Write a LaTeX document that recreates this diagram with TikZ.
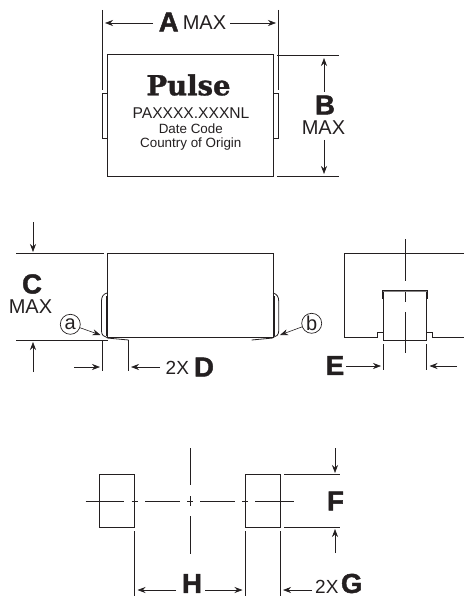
\documentclass[tikz,border=0pt]{standalone}
\usepackage{fontspec}
\setmainfont{Liberation Sans}
\newfontfamily\slabfont[FakeBold=1.2]{DejaVu Serif Bold}
\newfontfamily\heavyfont[FakeBold=1.6]{Liberation Sans Bold}
\usetikzlibrary{arrows.meta}
\definecolor{ink}{HTML}{231F20}
\tikzset{
  x=1pt,y=-1pt,
  outline/.style={draw=ink,line width=1pt},
  thin line/.style={draw=ink,line width=0.8pt},
  dim/.style={draw=ink,line width=0.6pt,-{Stealth[length=8pt,width=6pt]}},
  big/.style={font=\heavyfont\fontsize{27.5}{28}\selectfont,text=ink,inner sep=0pt},
  small/.style={font=\fontsize{20}{20}\selectfont,text=ink,inner sep=0pt},
  two x/.style={font=\fontsize{19}{19}\selectfont,text=ink,inner sep=0pt,anchor=west},
  mark text/.style={font=\fontsize{13.4}{14}\selectfont,text=ink,inner sep=0pt},
  callout/.style={circle,draw=ink,line width=0.7pt,minimum size=20pt,inner sep=0pt,font=\fontsize{20}{20}\selectfont,text=ink},
}
\begin{document}
\begin{tikzpicture}
\useasboundingbox (0,0) rectangle (464,596);
% top view
\draw[outline] (107.3,55) rectangle (273.3,176.7);
\draw[thin line] (107,93.7) -- (102.3,93.7) -- (102.3,138) -- (107,138);
\draw[thin line] (273.6,93.7) -- (278.7,93.7) -- (278.7,138) -- (273.6,138);
\draw[thin line] (102.3,10) -- (102.3,90);
\draw[thin line] (278.7,10) -- (278.7,90);
\draw[thin line] (277,55) -- (338.7,55);
\draw[thin line] (277,176.7) -- (338.7,176.7);
\node[big] (A) at (168.7,22) {A};
\node[small] (amax) at (204.5,23) {MAX};
\coordinate (al) at (105,23); \coordinate (ar) at (276,23);
\draw[dim] (153,23) -- (al);
\draw[dim] (230,23) -- (ar);
\node[big] (B) at (325,105) {B};
\node[small] (bmax) at (323.5,128) {MAX};
\coordinate (bt) at (324,58); \coordinate (bb) at (324,174);
\draw[dim] (324,92) -- (bt);
\draw[dim] (324,140) -- (bb);
\node[font=\slabfont\fontsize{27.5}{28}\selectfont,text=ink,inner sep=0pt] (pulse) at (188.5,85) {Pulse};
\node[font=\fontsize{15.6}{16}\selectfont,text=ink,inner sep=0pt] (pn) at (191,113) {PAXXXX.XXXNL};
\node[mark text] (date) at (190.8,129) {Date Code};
\node[mark text] (origin) at (190.8,143.7) {Country of Origin};
% side view
\draw[outline] (107.3,253) rectangle (273,337);
\draw[thin line] (16,253) -- (104,253);
\draw[thin line] (16,340) -- (108,340);
\draw[dim] (33,222) -- (33,252);
\draw[dim] (33,372) -- (33,342);
\node[big] (C) at (32,284) {C};
\node[small] (cmax) at (30.5,307) {MAX};
\draw[thin line] (107,293) .. controls (103,294) and (101.5,297) .. (101.5,301) -- (101.5,331) .. controls (101.5,335) and (104,337) .. (107,337.5);
\draw[thin line] (273,293) .. controls (277,294) and (278.7,297) .. (278.7,301) -- (278.7,331) .. controls (278.7,335) and (276,337) .. (273,337.5);
\draw[line width=0.9pt,ink] (106,296) -- (106,336);
\draw[line width=0.9pt,ink] (274.4,296) -- (274.4,336);
\draw[thin line] (107,338) -- (128.5,340);
\draw[thin line] (273,338) -- (251.7,340);
\node[callout] (a) at (70.3,324.3) {a};
\node[callout] (b) at (311.7,323.3) {b};
\coordinate (atip) at (100.5,335); \coordinate (btip) at (280,335);
\draw[dim] (a) -- (atip);
\draw[dim] (b) -- (btip);
\draw[thin line] (102,340) -- (102,371);
\draw[thin line] (128.5,340) -- (128.5,371);
\draw[dim] (74,367) -- (100,367);
\draw[dim] (160,367) -- (131,367);
\node[two x] (twod) at (165.5,367.5) {2X};
\node[big] (D) at (204,367) {D};
% end view
\draw[outline] (464,253) -- (344,253) -- (344,337.3) -- (377.3,337.3) -- (377.3,332.7) -- (383.3,332.7);
\draw[outline] (426.7,332.7) -- (432.7,332.7) -- (432.7,337.3) -- (464,337.3);
\draw[thin line] (383.3,292) -- (383.3,340) -- (426.7,340) -- (426.7,292);
\draw[line width=1.8pt,draw=ink!55] (383,291.2) -- (427,291.2);
\draw[thin line] (382.6,299) -- (382.6,290) -- (427.6,290) -- (427.6,299);
\draw[thin line] (405,239) -- (405,281);
\draw[thin line] (405,292) -- (405,302);
\draw[thin line] (405,312) -- (405,353);
\draw[thin line] (383.3,344) -- (383.3,370);
\draw[thin line] (426.7,344) -- (426.7,370);
\draw[dim] (346,366) -- (381,366);
\draw[dim] (457,366) -- (429.5,366);
\node[big] (E) at (335,365.5) {E};
% land pattern
\draw[thin line] (99.3,474.3) rectangle (134.7,527.7);
\draw[thin line] (245,474.3) rectangle (280.3,527.7);
\foreach \xa/\xb in {85.7/124,131.5/138,145/180,187/193,200/235,242/248,255/294}
  \draw[thin line] (\xa,501) -- (\xb,501);
\draw[thin line] (190,448) -- (190,485);
\draw[thin line] (190,496) -- (190,506);
\draw[thin line] (190,516) -- (190,554);
\draw[thin line] (284,474.3) -- (340,474.3);
\draw[thin line] (284,527.7) -- (340,527.7);
\draw[dim] (335,448) -- (335,473);
\draw[dim] (335,553) -- (335,529);
\node[big] (F) at (335.5,501) {F};
\draw[thin line] (134.7,531) -- (134.7,596);
\draw[thin line] (245,531) -- (245,596);
\draw[thin line] (280.3,531) -- (280.3,596);
\draw[dim] (176,590) -- (137.5,590);
\draw[dim] (205,590) -- (242.5,590);
\node[big] (H) at (192,583.5) {H};
\draw[dim] (312,590) -- (283,590);
\node[two x] (twog) at (315,587) {2X};
\node[big] (G) at (351.7,583.5) {G};
\end{tikzpicture}
\end{document}
